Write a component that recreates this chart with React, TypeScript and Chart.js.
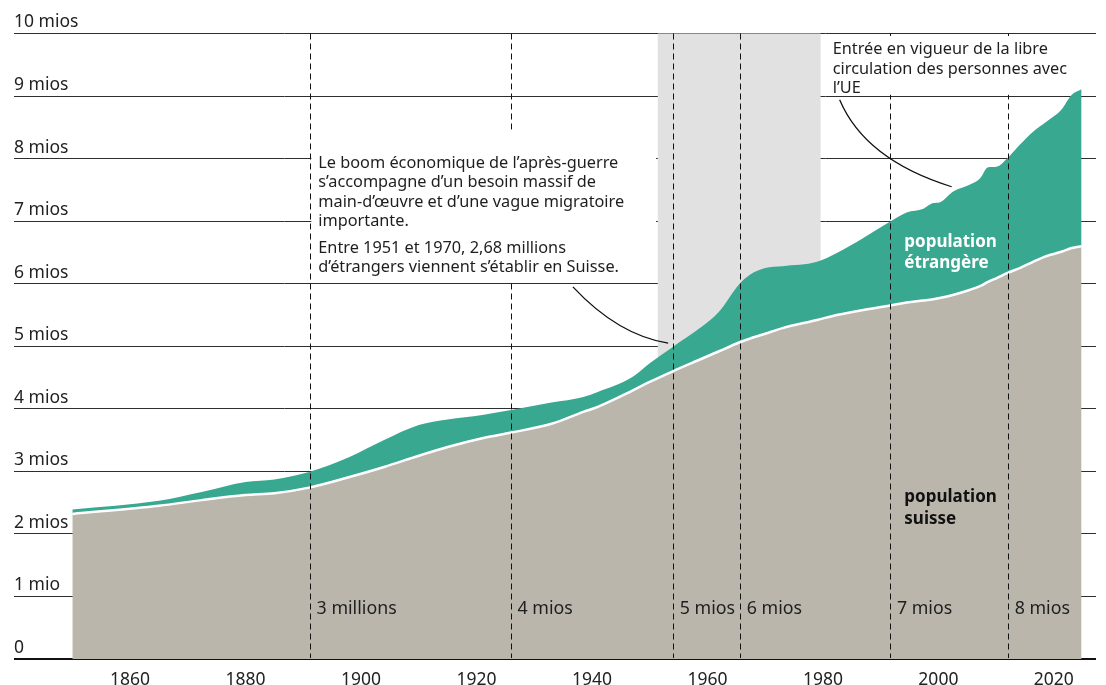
import { useEffect, useRef } from "react";
import { Chart, registerables } from "chart.js";

Chart.register(...registerables);

// ---- data (millions) ----
const years = [1850, 1865, 1872.4, 1880, 1885, 1891, 1898, 1904, 1910, 1915, 1921, 1926, 1933, 1938.5, 1941, 1947, 1950, 1954, 1959, 1962, 1965.5, 1967.3, 1970, 1973, 1979, 1982.4, 1987, 1991.6, 1994.5, 1997.4, 1999.1, 2000.2, 2002.5, 2005.4, 2007.2, 2008.6, 2010.1, 2011.9, 2014.1, 2016.4, 2018.7, 2021.3, 2023.1, 2024.8];
const swissPop = [2.32, 2.45, 2.54, 2.62, 2.65, 2.74, 2.91, 3.07, 3.25, 3.39, 3.53, 3.62, 3.76, 3.95, 4.03, 4.29, 4.43, 4.6, 4.8, 4.92, 5.06, 5.12, 5.2, 5.29, 5.42, 5.5, 5.58, 5.65, 5.7, 5.73, 5.75, 5.77, 5.82, 5.9, 5.96, 6.03, 6.09, 6.17, 6.25, 6.35, 6.44, 6.51, 6.57, 6.6];
const totalPop = [2.39, 2.53, 2.67, 2.83, 2.87, 2.99, 3.23, 3.5, 3.74, 3.83, 3.9, 3.98, 4.1, 4.19, 4.27, 4.51, 4.73, 4.99, 5.31, 5.55, 5.99, 6.14, 6.25, 6.28, 6.35, 6.49, 6.73, 6.99, 7.14, 7.2, 7.29, 7.3, 7.47, 7.58, 7.68, 7.86, 7.87, 8.0, 8.22, 8.43, 8.59, 8.78, 9.02, 9.11];

const xTickYears = [1860, 1880, 1900, 1920, 1940, 1960, 1980, 2000, 2020];
const yTickLabels = ["0", "1 mio", "2 mios", "3 mios", "4 mios", "5 mios", "6 mios", "7 mios", "8 mios", "9 mios", "10 mios"];

const milestoneYears = [1891.1, 1925.9, 1954.0, 1965.6, 1991.6, 2012.0];
const milestoneLabels = ["3 millions", "4 mios", "5 mios", "6 mios", "7 mios", "8 mios"];

const bandYears = [1951.4, 1979.6];

const note1Lines = [
  "Le boom économique de l’après-guerre",
  "s’accompagne d’un besoin massif de",
  "main-d’œuvre et d’une vague migratoire",
  "importante.",
  "Entre 1951 et 1970, 2,68 millions",
  "d’étrangers viennent s’établir en Suisse.",
];
const note2Lines = ["Entrée en vigueur de la libre", "circulation des personnes avec", "l’UE"];

const FONT = "'Noto Sans', 'DejaVu Sans', sans-serif";
const TEAL = "#38a890";
const STONE = "#bab6ac";
const BAND = "#e1e1e1";
const INK = "#1e1e1e";

const overlay = {
  id: "overlay",
  beforeDatasetsDraw(chart: any) {
    const { ctx, chartArea, scales } = chart;
    const x = scales.x;
    const x0 = x.getPixelForValue(bandYears[0]);
    const x1 = x.getPixelForValue(bandYears[1]);
    ctx.save();
    ctx.fillStyle = BAND;
    ctx.fillRect(x0, chartArea.top, x1 - x0, chartArea.bottom - chartArea.top);
    ctx.restore();
  },
  afterDraw(chart: any) {
    const { ctx, chartArea, scales } = chart;
    const x = scales.x;
    const y = scales.y;
    const X = (v: number) => x.getPixelForValue(v);
    const Y = (v: number) => y.getPixelForValue(v);
    ctx.save();

    // dashed milestone lines
    ctx.strokeStyle = "#111";
    ctx.lineWidth = 1;
    ctx.setLineDash([6, 4]);
    milestoneYears.forEach((yr) => {
      const px = Math.round(X(yr)) + 0.5;
      ctx.beginPath();
      ctx.moveTo(px, chartArea.top);
      ctx.lineTo(px, chartArea.bottom - 1);
      ctx.stroke();
    });
    ctx.setLineDash([]);

    // annotation boxes (white knock-outs)
    ctx.fillStyle = "#ffffff";
    const b1x0 = X(1891.4), b1x1 = X(1951.1), b1y0 = Y(8.46), b1y1 = Y(6.03);
    ctx.fillRect(b1x0, b1y0, b1x1 - b1x0, b1y1 - b1y0);
    const b2x0 = X(1979.8), b2x1 = X(2022.7), b2y0 = Y(9.96), b2y1 = Y(9.02);
    ctx.fillRect(b2x0, b2y0, b2x1 - b2x0, b2y1 - b2y0);

    // annotation text
    ctx.fillStyle = INK;
    ctx.font = `16.3px ${FONT}`;
    ctx.textAlign = "left";
    ctx.textBaseline = "alphabetic";
    const n1x = X(1892.6), n1y = Y(7.85);
    const n1off = [0, 19.5, 39, 58.5, 85, 104];
    note1Lines.forEach((t, i) => ctx.fillText(t, n1x, n1y + n1off[i]));
    const n2x = X(1981.7), n2y = Y(9.67);
    const n2off = [0, 19.5, 38.5];
    note2Lines.forEach((t, i) => ctx.fillText(t, n2x, n2y + n2off[i]));

    // leader lines
    ctx.strokeStyle = "#111";
    ctx.lineWidth = 1.3;
    ctx.beginPath();
    ctx.moveTo(X(1936.7), Y(5.95));
    ctx.quadraticCurveTo(X(1944.5), Y(5.18), X(1953.2), Y(5.05));
    ctx.stroke();
    ctx.beginPath();
    ctx.moveTo(X(1982.9), Y(8.94));
    ctx.quadraticCurveTo(X(1987.3), Y(7.98), X(2002.3), Y(7.55));
    ctx.stroke();

    // milestone labels
    ctx.fillStyle = INK;
    ctx.font = `17.8px ${FONT}`;
    ctx.textBaseline = "middle";
    milestoneLabels.forEach((t, i) => ctx.fillText(t, X(milestoneYears[i]) + 7, Y(0.8)));

    // series labels
    ctx.textBaseline = "alphabetic";
    ctx.font = `bold 17px ${FONT}`;
    ctx.fillStyle = "#ffffff";
    ctx.fillText("population", X(1994.1), Y(6.59));
    ctx.fillText("étrangère", X(1994.1), Y(6.59) + 21.6);
    ctx.fillStyle = "#111";
    ctx.fillText("population", X(1994.1), Y(2.51));
    ctx.fillText("suisse", X(1994.1), Y(2.51) + 21.6);

    ctx.restore();
  },
};

export default function App() {
  const ref = useRef<HTMLCanvasElement>(null);
  useEffect(() => {
    const canvas = ref.current!;
    Chart.defaults.font.family = FONT;
    const chart = new Chart(canvas, {
      type: "line",
      data: {
        datasets: [
          {
            label: "population suisse",
            data: years.map((yr, i) => ({ x: yr, y: swissPop[i] })),
            fill: "origin",
            backgroundColor: STONE,
            borderColor: "#ffffff",
            borderWidth: 2.5,
            pointRadius: 0,
            cubicInterpolationMode: "monotone",
          },
          {
            label: "population étrangère",
            data: years.map((yr, i) => ({ x: yr, y: totalPop[i] })),
            fill: "-1",
            backgroundColor: TEAL,
            borderColor: "rgba(0,0,0,0)",
            borderWidth: 0,
            pointRadius: 0,
            cubicInterpolationMode: "monotone",
          },
        ],
      },
      options: {
        responsive: false,
        animation: false,
        events: [],
        layout: { padding: { left: 14, right: 10, top: 33.5, bottom: 0 } },
        plugins: { legend: { display: false }, tooltip: { enabled: false } },
        scales: {
          x: {
            type: "linear",
            min: 1839.9,
            max: 2027.3,
            grid: { display: false },
            border: { display: false },
            afterBuildTicks: (s: any) => {
              s.ticks = xTickYears.map((v) => ({ value: v }));
            },
            afterFit: (s: any) => {
              s.height = 26;
              s.paddingLeft = 0;
              s.paddingRight = 0;
            },
            ticks: {
              autoSkip: false,
              maxRotation: 0,
              padding: 3,
              color: "#222",
              font: { size: 17.5 },
              callback: (v: any) => String(v),
            },
          },
          y: {
            min: 0,
            max: 10,
            z: 1,
            afterBuildTicks: (s: any) => {
              s.ticks = yTickLabels.map((_, i) => ({ value: i }));
            },
            afterFit: (s: any) => {
              s.width = 0;
              s.paddingTop = 0;
              s.paddingBottom = 0;
            },
            grid: {
              drawTicks: false,
              color: (c: any) => (c.tick && c.tick.value === 0 ? "#111" : "#2e2e2e"),
              lineWidth: (c: any) => (c.tick && c.tick.value === 0 ? 2 : 1),
            },
            border: { display: false },
            ticks: {
              mirror: true,
              padding: 0,
              labelOffset: -11,
              color: "#222",
              font: { size: 17.5 },
              callback: (v: any) => yTickLabels[Math.round(Number(v))],
            },
          },
        },
      },
      plugins: [overlay],
    } as any);
    return () => chart.destroy();
  }, []);
  return (
    <canvas
      ref={ref}
      width={1106}
      height={685}
      style={{ position: "absolute", left: 0, top: 0, display: "block" }}
    />
  );
}
